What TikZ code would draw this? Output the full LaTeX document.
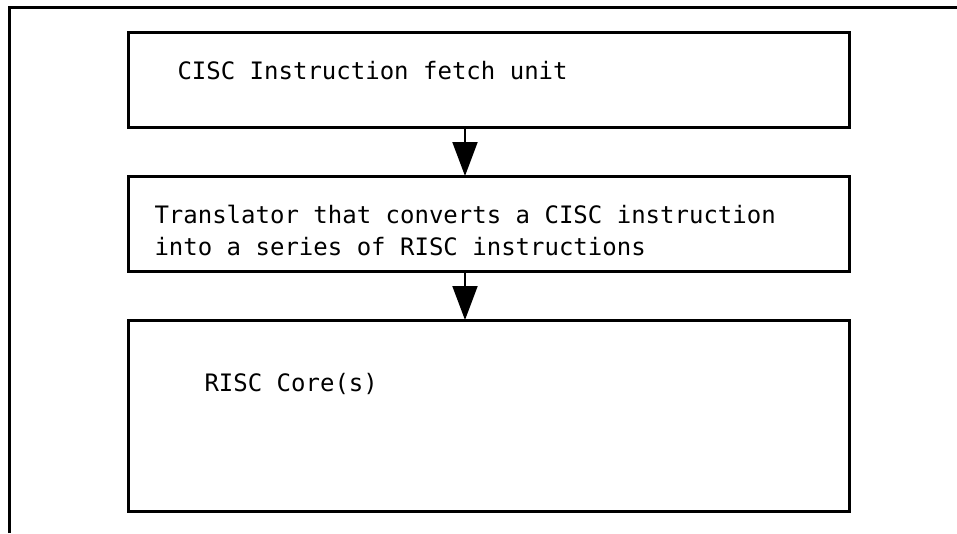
\documentclass[tikz,border=0pt]{standalone}
\usepackage{fontspec}
\setmonofont{DejaVu Sans Mono}
\usetikzlibrary{arrows.meta, positioning}

\begin{document}
\begin{tikzpicture}
            [x=1pt, y=-1pt, node distance=49pt, line width=3pt,
            ->, >={Triangle[width=25pt,length=34pt]},
            stage/.style={rectangle, draw=black, minimum width=721pt, minimum height=95pt, outer sep=0pt},
            caption/.style={inner sep=0pt, align=left, font=\ttfamily\fontsize{24}{32}\selectfont}]

            \useasboundingbox (0,0) rectangle (957,533);
            \draw[-] (9,533) |- (957,7);

            \node[stage] (fetch) at (488.5,79.5) {};
            \node[stage] (trans) [below = of fetch] {};
            \node[stage,minimum height=191pt] (core) [below = of trans] {};

            \node[caption] (fetchtxt) [right = 48pt of fetch.west, anchor=base west] {CISC Instruction fetch unit};
            \node[caption] (transtxt) [right = 25pt of trans.west, anchor=base west, yshift=-32pt]
                {Translator that converts a CISC instruction\\into a series of RISC instructions};
            \node[caption] (coretxt) [right = 75pt of core.west, anchor=base west, yshift=24.5pt] {RISC Core(s)};

            \draw[line width=2pt] ([xshift=-23.5pt]fetch.south) -- ([xshift=-23.5pt]trans.north);
            \draw[line width=2pt] ([xshift=-23.5pt]trans.south) -- ([xshift=-23.5pt]core.north);

          \end{tikzpicture}
\end{document}
